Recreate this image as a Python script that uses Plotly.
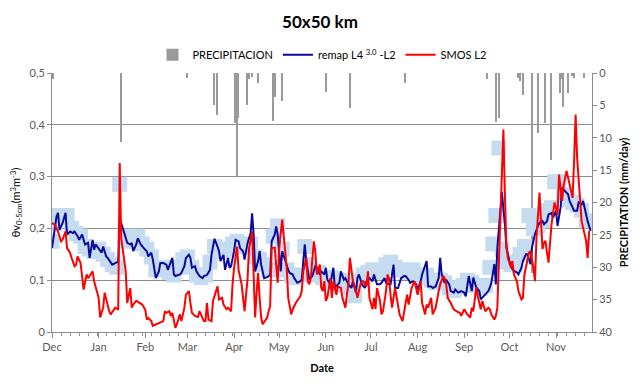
import pandas as pd
import plotly.graph_objects as go

START = pd.Timestamp("2010-12-01")

# --- remap L4 3.0 - L2 (blue line): day offset from 1 Dec, value
blue_days = [0, 3, 4, 5, 7, 9, 10, 12, 14, 15, 17, 18, 20, 21, 22, 24, 25, 27, 28, 29, 31, 33, 34, 36, 37, 39, 40, 42, 44, 45,
             47, 48, 50, 52, 53, 54, 56, 57, 59, 61, 63, 64, 66, 67, 69, 71, 72, 74, 76, 77, 79, 80, 81, 82, 85, 86, 88, 89, 91,
             92, 93, 95, 96, 98, 100, 101, 103, 105, 106, 108, 110, 111, 112, 114, 115, 117, 118, 119, 121, 122, 124, 125, 127, 128,
             130, 132, 133, 134, 135, 137, 138, 139, 141, 143, 145, 146, 148, 149, 150, 151, 152, 153, 155, 157, 158, 160, 161, 163,
             165, 166, 168, 169, 171, 172, 173, 175, 176, 178, 179, 181, 182, 183, 185, 187, 188, 190, 191, 192, 194, 195, 197, 199,
             200, 202, 203, 204, 206, 208, 209, 211, 213, 214, 216, 218, 219, 221, 222, 224, 225, 227, 228, 230, 232, 234, 235, 237,
             238, 240, 242, 243, 245, 246, 248, 249, 250, 252, 253, 255, 257, 258, 259, 261, 262, 264, 265, 267, 268, 270, 272, 274,
             275, 277, 279, 280, 282, 284, 285, 288, 290, 291, 292, 294, 295, 296, 298, 299, 301, 302, 304, 306, 307, 309, 310, 312,
             313, 315, 316, 318, 319, 321, 323, 324, 326, 327, 329, 330, 332, 333, 335, 336, 338, 339, 341, 343, 344, 346, 347, 349,
             350, 352, 353, 354, 356, 358]
blue_vals = [0.162, 0.223, 0.230, 0.197, 0.210, 0.230, 0.188, 0.194, 0.191, 0.194, 0.185, 0.178, 0.188, 0.180, 0.169, 0.172, 0.143, 0.178, 0.159, 0.169,
             0.162, 0.153, 0.165, 0.146, 0.143, 0.133, 0.130, 0.133, 0.136, 0.220,
             0.201, 0.188, 0.172, 0.169, 0.172, 0.156, 0.169, 0.181, 0.169, 0.162, 0.156, 0.146, 0.153, 0.140, 0.104, 0.117, 0.133, 0.133, 0.130, 0.120,
             0.136, 0.143, 0.111, 0.108, 0.111, 0.114, 0.127, 0.143, 0.149,
             0.143, 0.124, 0.127, 0.117, 0.108, 0.104, 0.108, 0.110, 0.120, 0.149, 0.180, 0.165, 0.156, 0.137, 0.149, 0.120, 0.143, 0.124, 0.127, 0.156,
             0.178, 0.175, 0.162, 0.156, 0.140, 0.172, 0.191, 0.229, 0.188, 0.117, 0.137, 0.156, 0.130, 0.104, 0.106, 0.110, 0.175, 0.188, 0.204, 0.188,
             0.143, 0.117, 0.156, 0.137, 0.120, 0.114, 0.111, 0.104, 0.095, 0.098, 0.101, 0.169, 0.137, 0.101, 0.104, 0.108, 0.127, 0.124, 0.111, 0.117,
             0.111, 0.124, 0.101, 0.092, 0.124, 0.085, 0.092, 0.095, 0.117, 0.101, 0.104, 0.092, 0.085, 0.098, 0.076, 0.104, 0.111, 0.092, 0.085, 0.098,
             0.104, 0.098, 0.111, 0.092, 0.092, 0.095, 0.104, 0.095, 0.092, 0.092, 0.130, 0.085, 0.085, 0.104, 0.108, 0.108, 0.101, 0.095, 0.098, 0.092,
             0.082, 0.098, 0.111, 0.130, 0.137, 0.088, 0.088, 0.085, 0.088, 0.104, 0.143, 0.111, 0.095, 0.101, 0.092, 0.079, 0.076, 0.082, 0.076, 0.079,
             0.076, 0.069, 0.108, 0.079, 0.105, 0.086, 0.079, 0.063, 0.073, 0.079, 0.086, 0.095, 0.131, 0.092, 0.163, 0.234, 0.270, 0.208, 0.163, 0.137,
             0.121, 0.118, 0.115, 0.111, 0.124, 0.137, 0.150, 0.150, 0.131, 0.163, 0.189, 0.205, 0.211, 0.214, 0.208, 0.214, 0.227, 0.230, 0.221, 0.234,
             0.205, 0.240, 0.279, 0.272, 0.266, 0.253, 0.240, 0.234, 0.234, 0.250, 0.246, 0.253, 0.240, 0.214, 0.195, 0.227, 0.230, 0.195]

# --- SMOS L2 (red line)
red_days = [0, 2, 4, 6, 7, 9, 10, 12, 13, 15, 16, 17, 19, 20, 21, 23, 24, 25, 27, 28, 30, 31, 32, 34, 35, 37, 38, 39, 41, 42, 44, 45,
            46, 48, 49, 50, 52, 53, 54, 56, 58, 60, 62, 63, 64, 66, 67, 69, 71, 74, 75, 76, 78, 79, 80, 82, 83, 85, 86, 88, 89, 91,
            92, 93, 95, 97, 98, 100, 101, 102, 103, 104, 106, 107, 109, 110, 111, 113, 114, 116, 117, 119, 120, 121, 123, 124, 126, 127,
            128, 130, 131, 133, 134, 135, 136, 137, 138, 139, 140, 143, 144, 145, 146, 148, 150, 151, 153, 154, 156, 157, 159, 160, 162,
            165, 166, 167, 169, 170, 171, 172, 174, 175, 176, 178, 179, 180, 181, 182, 183, 185, 186, 187, 189, 190, 192, 193, 195, 196,
            197, 198, 199, 200, 202, 203, 205, 206, 207, 209, 210, 211, 213, 214, 215, 216, 218, 219, 220, 222, 223, 224, 225, 226, 228,
            230, 231, 233, 234, 236, 237, 239, 241, 242, 243, 245, 246, 248, 249, 250, 252, 253, 255, 257, 258, 260, 261, 262, 263, 265,
            267, 269, 271, 272, 274, 276, 278, 279, 280, 282, 283, 285, 286, 288, 290, 291, 292, 294, 295, 296, 297, 299, 300, 301, 302,
            303, 305, 306, 307, 309, 310, 312, 313, 314, 316, 317, 318, 320, 321, 322, 324, 325, 326, 327, 328, 329, 330, 332, 333, 334,
            336, 337, 339, 340, 342, 343, 344, 345, 346, 347, 348, 349, 351, 352, 353, 355, 356, 357]
red_vals = [0.210, 0.207, 0.194, 0.175, 0.178, 0.194, 0.162, 0.153, 0.143, 0.127, 0.130, 0.146, 0.133, 0.111, 0.082, 0.111, 0.104, 0.108, 0.117, 0.098,
            0.079, 0.066, 0.028, 0.047, 0.076, 0.050, 0.040, 0.034, 0.043, 0.047, 0.043, 0.326,
            0.181, 0.136, 0.117, 0.056, 0.085, 0.047, 0.053, 0.060, 0.056, 0.053, 0.043, 0.024, 0.027, 0.021, 0.012, 0.015, 0.018, 0.021, 0.040,
            0.037, 0.040, 0.031, 0.037, 0.008, 0.015, 0.034, 0.021, 0.047, 0.072, 0.079,
            0.056, 0.037, 0.031, 0.029, 0.040, 0.028, 0.021, 0.021, 0.056, 0.024, 0.021, 0.060, 0.079, 0.088, 0.063, 0.066, 0.053, 0.044, 0.047, 0.040,
            0.092, 0.124, 0.165, 0.120, 0.092, 0.066, 0.040, 0.104, 0.162, 0.194, 0.124, 0.028, 0.076, 0.114, 0.066, 0.028, 0.015, 0.028, 0.040, 0.050,
            0.162, 0.163, 0.095, 0.162, 0.217, 0.188, 0.124, 0.066, 0.034, 0.044, 0.056, 0.069, 0.079, 0.117, 0.143, 0.098, 0.092, 0.104, 0.175, 0.156,
            0.111, 0.130, 0.085, 0.079, 0.098, 0.060, 0.066, 0.104, 0.066, 0.098, 0.072, 0.088, 0.085, 0.066, 0.047, 0.072, 0.092, 0.143, 0.120, 0.098,
            0.079, 0.066, 0.092, 0.098, 0.098, 0.088, 0.117, 0.066, 0.044, 0.066, 0.044, 0.085, 0.060, 0.034, 0.040, 0.079, 0.111, 0.104, 0.072, 0.047,
            0.085, 0.047, 0.034, 0.021, 0.040, 0.072, 0.053, 0.085, 0.098, 0.085, 0.072, 0.098, 0.056, 0.034, 0.053, 0.047, 0.066, 0.034, 0.047, 0.079,
            0.092, 0.108, 0.104, 0.092, 0.066, 0.056, 0.044, 0.040, 0.037, 0.031, 0.044, 0.034, 0.028, 0.047, 0.040, 0.086, 0.069, 0.044, 0.060, 0.040,
            0.047, 0.044, 0.034, 0.024, 0.031, 0.047, 0.137, 0.298, 0.391, 0.266, 0.169, 0.143, 0.124, 0.137, 0.111, 0.098, 0.079, 0.063, 0.066, 0.111,
            0.143, 0.153, 0.156, 0.124, 0.098, 0.182, 0.269, 0.214, 0.160, 0.172, 0.176, 0.153, 0.134, 0.208, 0.230, 0.250, 0.227, 0.304, 0.253, 0.282,
            0.311, 0.298, 0.279, 0.266, 0.259, 0.330, 0.420, 0.337, 0.253, 0.214, 0.201, 0.176, 0.143, 0.195, 0.214, 0.163]

# --- light blue squares (background band, no legend entry)
sq_days = [0, 2, 4, 7, 10, 13, 16, 19, 22, 25, 28, 31, 34, 37, 40, 43, 45, 48, 51, 54, 57, 60, 63, 66, 69, 72, 75, 78, 81, 84, 87, 90,
           93, 96, 99, 102, 105, 108, 111, 114, 117, 120, 123, 126, 129, 132, 135, 138, 141, 144, 147, 150, 153, 156, 159, 162, 165,
           168, 171, 174, 177, 180, 183, 186, 189, 192, 195, 198, 201, 204, 207, 210, 213, 216, 219, 222, 225, 228, 231, 234, 237, 240,
           243, 246, 249, 252, 255, 258, 261, 264, 267, 270, 273, 276, 279, 282, 285, 288, 291, 293, 295, 297, 299, 302, 305, 308, 311,
           314, 317, 320, 323, 326, 329, 332, 334, 337, 340, 343, 346, 349, 352, 355, 358]
sq_vals = [0.175, 0.210, 0.225, 0.220, 0.225, 0.200, 0.190, 0.185, 0.165, 0.160, 0.155, 0.160, 0.150, 0.140, 0.130, 0.125, 0.285, 0.185, 0.175,
           0.180, 0.185, 0.170, 0.160, 0.145, 0.120, 0.120, 0.125, 0.115, 0.110, 0.125, 0.140, 0.145,
           0.125, 0.110, 0.105, 0.110, 0.135, 0.165, 0.160, 0.155, 0.160, 0.170, 0.175, 0.165, 0.165, 0.170, 0.145, 0.140, 0.130, 0.120, 0.185,
           0.205, 0.160, 0.120, 0.110, 0.105, 0.110, 0.165, 0.130, 0.110, 0.115, 0.105, 0.100, 0.105, 0.095, 0.100, 0.090, 0.085, 0.070, 0.100,
           0.110, 0.115, 0.120, 0.115, 0.120, 0.130, 0.135, 0.125, 0.120, 0.120, 0.115, 0.120, 0.110, 0.105, 0.110, 0.100, 0.095, 0.100, 0.095,
           0.085, 0.080, 0.085, 0.090, 0.100, 0.095, 0.090, 0.085, 0.090, 0.125, 0.170, 0.225, 0.355, 0.160, 0.135, 0.130, 0.130, 0.150, 0.165,
           0.225, 0.200, 0.205, 0.215, 0.235, 0.240, 0.290, 0.290, 0.265, 0.255, 0.250, 0.245, 0.235, 0.215, 0.215]

# --- precipitation (mm/day)
pr_days = [1, 46, 90, 108, 110, 122, 123, 124, 130, 131, 133, 137, 147, 148, 153, 182, 198, 235, 289, 295, 297,
           310, 311, 313, 319, 323, 328, 332, 338, 339, 340, 343, 346, 347, 354]
pr_vals = [1.0, 10.6, 0.8, 5.0, 6.5, 7.7, 16.0, 7.0, 5.0, 1.0, 0.6, 1.5, 7.4, 3.7, 4.3, 3.0, 5.4, 1.5, 1.0, 7.6, 7.0,
           0.8, 1.2, 3.4, 30.9, 9.3, 7.7, 13.4, 3.1, 1.0, 5.2, 3.1, 0.5, 0.8, 0.8]

left_ticks = [0, 0.1, 0.2, 0.3, 0.4, 0.5]
left_labels = ["0", "0,1", "0,2", "0,3", "0,4", "0,5"]
right_ticks = [0, 5, 10, 15, 20, 25, 30, 35, 40]


def to_dates(days):
    return START + pd.to_timedelta(days, unit="D")


FONT = "Lato, 'Open Sans', sans-serif"
GRID = "#8c8c8c"
TXT = "#595959"

fig = go.Figure()
fig.add_trace(go.Bar(x=to_dates(pr_days), y=pr_vals, name="PRECIPITACION", yaxis="y",
                     marker=dict(color="#9a9a9a", line=dict(width=0)), width=1.1 * 86400000))
fig.add_trace(go.Scatter(x=to_dates(sq_days), y=sq_vals, mode="markers", yaxis="y2", showlegend=False,
                         marker=dict(symbol="square", size=15, color="#c5dcf0", line=dict(width=0)),
                         hoverinfo="skip"))
fig.add_trace(go.Scatter(x=to_dates(blue_days), y=blue_vals, mode="lines", yaxis="y2",
                         name="remap L4 <sup>3.0</sup> -L2", line=dict(color="#0a0a9e", width=2)))
fig.add_trace(go.Scatter(x=to_dates(red_days), y=red_vals, mode="lines", yaxis="y2",
                         name="SMOS L2", line=dict(color="#ff0000", width=2)))

fig.update_layout(
    width=640, height=387,
    margin=dict(l=52, r=45, t=73, b=55),
    paper_bgcolor="white", plot_bgcolor="white",
    font=dict(family=FONT, size=11, color=TXT),
    title=dict(text="<b>50x50 km</b>", x=0.5, xanchor="center", y=0.943, yanchor="middle",
               yref="container", font=dict(size=17, color="#000000", family=FONT)),
    legend=dict(orientation="h", x=0.5, xanchor="center", y=1.07, yanchor="middle",
                font=dict(size=11, color="#000000"), itemwidth=30, bgcolor="rgba(0,0,0,0)",
                traceorder="normal"),
    bargap=0,
    showlegend=True,
    xaxis=dict(
        type="date", range=[START, START + pd.Timedelta(days=358.9)],
        tick0=START, dtick="M1", tickformat="%b", showgrid=False,
        showline=True, linecolor=GRID, linewidth=1,
        ticks="outside", ticklen=5, tickcolor=GRID,
        minor=dict(ticks="outside", ticklen=3, tickcolor=GRID, dtick=6 * 86400000, tick0=START),
        tickfont=dict(size=11, color=TXT),
        title=dict(text="<b>Date</b>", font=dict(size=11, color="#000000"), standoff=12),
    ),
    yaxis=dict(
        side="right", range=[40, 0], tickvals=right_ticks, showgrid=False,
        showline=True, linecolor=GRID, linewidth=1, ticks="outside", ticklen=4, tickcolor=GRID,
        tickfont=dict(size=11, color=TXT), zeroline=False,
        title=dict(text="<b>PRECIPITATION (mm/day)</b>", font=dict(size=11, color="#000000"), standoff=8),
    ),
    yaxis2=dict(
        overlaying="y", side="left", range=[0, 0.5], tickvals=left_ticks, ticktext=left_labels,
        showgrid=True, gridcolor=GRID, gridwidth=1, zeroline=False,
        showline=True, linecolor=GRID, linewidth=1, ticks="outside", ticklen=4, tickcolor=GRID,
        tickfont=dict(size=11, color=TXT),
        title=dict(text="θv<sub>0-5cm</sub>(m<sup>3</sup>m<sup>-3</sup>)", font=dict(size=11, color="#000000"), standoff=6),
    ),
)

fig.write_html("out.html")
